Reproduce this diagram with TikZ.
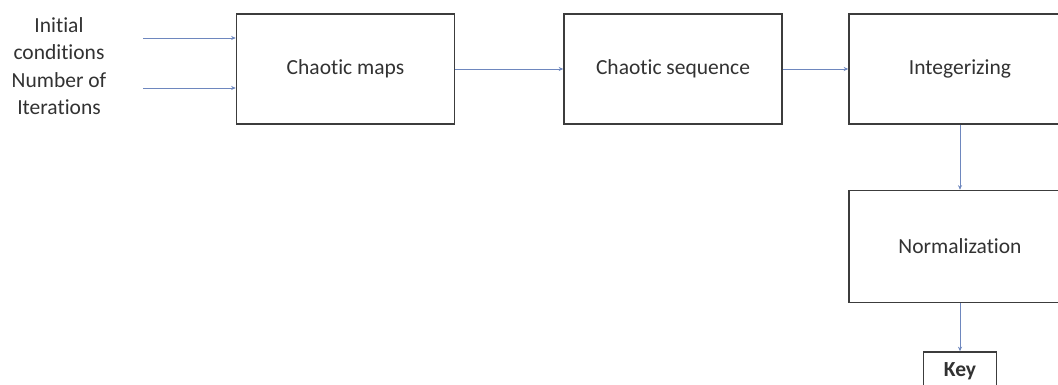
\documentclass[tikz,border=0pt]{standalone}
\usepackage{fontspec}
\setmainfont{Carlito}[Ligatures=NoCommon]
\usetikzlibrary{arrows.meta}
\definecolor{boxline}{RGB}{60,60,60}
\definecolor{flow}{RGB}{110,135,190}
\definecolor{txt}{RGB}{50,50,50}
\begin{document}
\begin{tikzpicture}[x=1pt,y=-1pt,
  every node/.style={text=txt,font=\fontsize{21.5}{27.5}\selectfont},
  block/.style={draw=boxline,line width=1.6pt,fill=white,inner sep=0pt,
    minimum width=218pt,minimum height=110pt},
  keybox/.style={draw=boxline,line width=1.6pt,fill=white,inner sep=0pt,
    minimum width=73pt,minimum height=38pt,font=\bfseries\fontsize{21.5}{27.5}\selectfont},
  link/.style={draw=flow,line width=0.8pt,-{Stealth[length=4.5pt,width=4pt]}}]
\useasboundingbox (0,0) rectangle (1058,385);
\clip (0,0) rectangle (1058,385);
\fill[white] (0,0) rectangle (1058,385);

% processing chain
\node[block] (maps) at (345.5,69) {Chaotic maps};
\node[block] (seq) at (673,69) {Chaotic sequence};
\node[block,minimum width=222pt] (int) at (960,69) {Integerizing};
\node[block,minimum width=222pt,minimum height=112pt] (norm) at (960,246.5) {Normalization};
\node[keybox] (key) at (960,371) {Key};

% inputs
\node[align=center] (inputs) at (59,66) {Initial\\conditions\\Number of\\Iterations};
\coordinate (in1) at (143,38);
\coordinate (in2) at (143,88);

% connectors
\draw[link] (in1) -- (maps.west |- in1);
\draw[link] (in2) -- (maps.west |- in2);
\draw[link] (maps) -- (seq);
\draw[link] (seq) -- (int);
\draw[link] (int) -- (norm);
\draw[link] (norm) -- (key);
\end{tikzpicture}
\end{document}
